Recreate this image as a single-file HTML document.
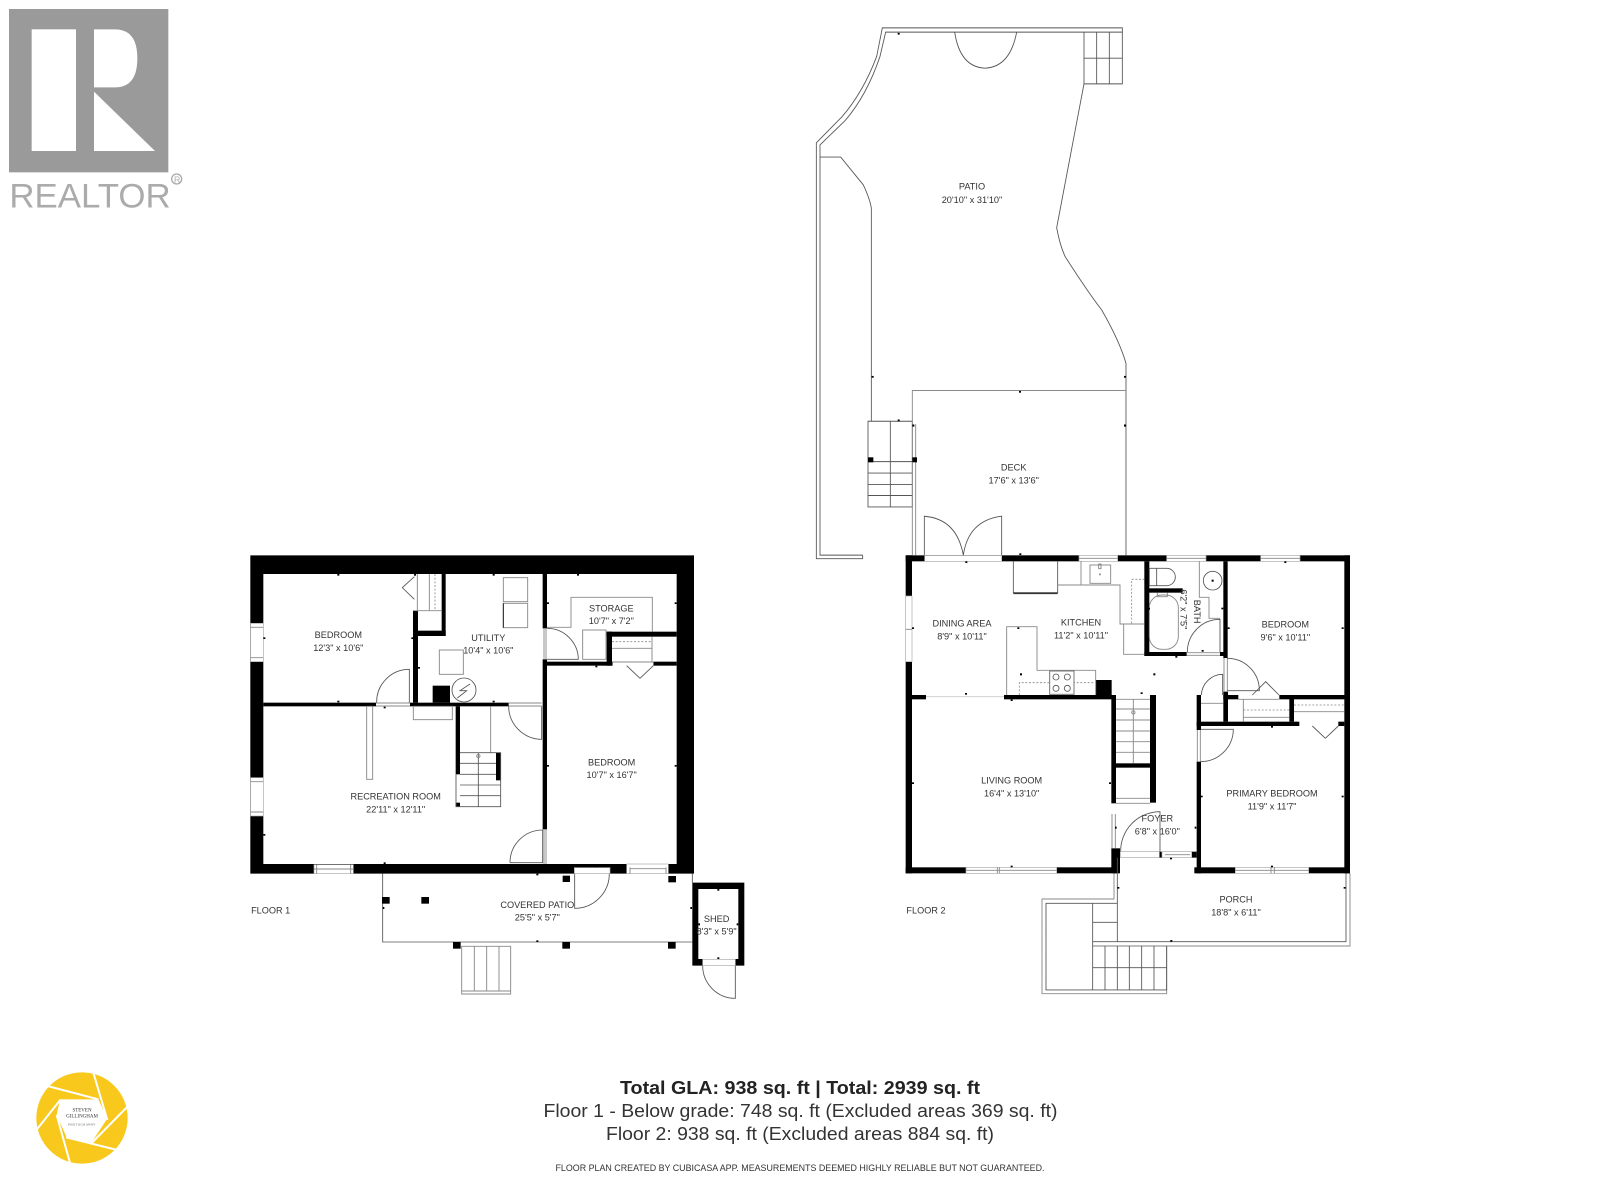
<!DOCTYPE html>
<html><head><meta charset="utf-8"><style>
html,body{margin:0;padding:0;background:#fff}
svg{display:block;filter:blur(.3px)}
text{font-family:"Liberation Sans",sans-serif;fill:#333}
.lb text{font-size:27.5px;text-anchor:middle}
.lp text{font-size:9.2px;text-anchor:middle}
.ln{fill:none;stroke:#555;stroke-width:2.6}
.lg{fill:none;stroke:#8a8a8a;stroke-width:2.8}
.dt{fill:none;stroke:#888;stroke-width:2.4;stroke-dasharray:6 5}
.w{fill:#fff;stroke:#aaa;stroke-width:2}
.k{fill:#000}
</style></head><body>
<svg width="1600" height="1200" viewBox="0 0 1600 1200" xmlns="http://www.w3.org/2000/svg">
<rect width="1600" height="1200" fill="#fff"/>

<!-- REALTOR logo -->
<g transform="scale(.33333)">
<rect x="27" y="27" width="478" height="490" fill="#9a9a9a"/>
<rect x="95" y="88" width="133" height="365" fill="#fff"/>
<path d="M282 88H345Q412 88 412 175Q412 262 345 262H282Z" fill="#fff"/>
<path d="M282 275L465 453H282Z" fill="#fff"/>
<text x="28" y="623" font-size="104" textLength="484" lengthAdjust="spacingAndGlyphs" style="fill:#ababab">REALTOR</text>
<circle cx="530" cy="537" r="15" fill="none" stroke="#aaa" stroke-width="4"/>
<text x="522" y="547" font-size="26" style="fill:#aaa">R</text>
</g>

<!-- Photographer logo -->
<g transform="translate(20,1060) scale(.33333)">
<circle cx="186" cy="174" r="137" fill="#f8c81c"/>
<polygon points="120,118 235,118 262,176 214,248 140,232 110,165" fill="#fff"/>
<g stroke="#fff" stroke-width="6" fill="none">
<path d="M82 78L235 118"/><path d="M220 38L262 180"/><path d="M330 132L212 252"/><path d="M292 270L138 232"/><path d="M46 214L122 118"/><path d="M110 165L152 316"/>
</g>
<text x="186" y="155" font-size="15" text-anchor="middle" style="font-family:'Liberation Serif',serif;fill:#333">STEVEN</text>
<text x="186" y="173" font-size="15" text-anchor="middle" style="font-family:'Liberation Serif',serif;fill:#333">GILLINGHAM</text>
<text x="186" y="196" font-size="9" text-anchor="middle" letter-spacing="1.5" style="font-family:'Liberation Serif',serif;fill:#555">PHOTOGRAPHY</text>
</g>

<!-- PATIO / DECK -->
<g transform="translate(800,10) scale(.33333,.357)">
<path class="ln" d="M188 1527V1537H49V372L125 300Q190 230 230 130L247 50H967V62"/>
<path class="ln" d="M188 1527H60V378L135 310Q200 240 240 130L257 62H967V207H852V62"/>
<path class="ln" d="M852 207L770 610Q780 660 795 690Q860 785 905 840Q960 930 978 990V1527"/>
<path class="ln" d="M60 412H122L190 490Q210 530 214 555V1152"/>
<path class="ln" d="M204 1152H337V1392H204ZM204 1265H337M204 1297H337M204 1329H337M204 1360H337M271 1152V1392"/>
<path class="lg" d="M337 1527V1066H978M347 1160V1527"/>
<path class="ln" d="M373 1527V1418Q470 1425 490 1527Q505 1430 605 1418V1527"/>
<path class="ln" d="M464 62Q480 160 555 163Q630 160 650 62"/>
<path class="ln" d="M890 62V207M928 62V207M852 135H967"/>
<rect class="k" x="204" y="1253" width="16" height="14"/><rect class="k" x="337" y="1253" width="14" height="14"/>
<g class="k"><rect x="293" y="64" width="6" height="5"/><rect x="215" y="1025" width="6" height="5"/><rect x="972" y="1025" width="6" height="5"/><rect x="657" y="1067" width="6" height="5"/><rect x="293" y="1147" width="6" height="5"/><rect x="337" y="1161" width="6" height="6"/><rect x="972" y="1161" width="6" height="6"/></g>
</g>
<g class="lp" transform="translate(800,10)">
<text x="172" y="179.6">PATIO</text><text x="172" y="192.8">20'10" x 31'10"</text>
<text x="213.7" y="460.5">DECK</text><text x="213.7" y="473.7">17'6" x 13'6"</text>
</g>

<!-- FLOOR 1 -->
<g transform="translate(240,540) scale(.33333)">
<path class="k" d="M31 46H1362V1001H31ZM70 102V972H1310V102Z" fill-rule="evenodd"/>
<rect class="w" x="32" y="250" width="38" height="115"/><rect class="w" x="32" y="713" width="38" height="115"/>
<path class="lg" d="M32 262H70M32 353H70M32 725H70M32 816H70"/>
<rect class="w" x="222" y="974" width="118" height="27"/><path class="lg" d="M230 974V1001M332 974V1001M222 987H340"/>
<rect class="w" x="1003" y="983" width="107" height="18"/>
<rect x="1160" y="972" width="125" height="29" class="w"/><path class="lg" d="M1170 982V1001M1278 982V1001M1170 986H1278"/>
<g class="k">
<rect x="70" y="488" width="338" height="11"/><rect x="510" y="488" width="296" height="11"/>
<rect x="908" y="102" width="13" height="163"/><rect x="908" y="358" width="13" height="510"/>
<rect x="519" y="212" width="15" height="276"/><rect x="534" y="272" width="83" height="16"/><rect x="605" y="102" width="12" height="186"/>
<rect x="921" y="365" width="197" height="12"/><rect x="1240" y="365" width="70" height="12"/>
<rect x="1100" y="275" width="16" height="102"/><rect x="1100" y="275" width="210" height="15"/>
<rect x="578" y="437" width="52" height="51"/><rect x="647" y="499" width="13" height="204"/><rect x="768" y="638" width="14" height="83"/><rect x="647" y="788" width="13" height="12"/>
</g>
<path class="lg" d="M408 489H510M408 498H510M806 489H905M806 498H905M912 265V358M918 265V358M912 868V972M918 868V972"/>
<rect x="1118" y="365" width="122" height="12" fill="#fff"/><path class="lg" d="M1118 366H1240"/>
<path class="ln" d="M410 488A98 98 0 0 1 508 388V488"/>
<path class="ln" d="M806 499A100 100 0 0 0 905 598V499"/>
<path class="ln" d="M810 968H908V870A98 98 0 0 0 810 968"/>
<path class="ln" d="M921 265A94 94 0 0 1 1015 358H921"/>
<path class="ln" d="M1004 1001V1105A104 104 0 0 0 1108 1001"/>
<path class="ln" d="M1388 1277A98 98 0 0 0 1486 1375V1277"/>
<path class="lg" d="M921 262H993V172H1237V275"/>
<rect class="lg" x="1028" y="270" width="70" height="88"/>
<path class="lg" d="M1116 325H1236M1236 290V365"/><path class="dt" d="M1116 305H1236"/>
<path class="ln" d="M1160 377L1200 415L1240 377"/>
<path class="ln" d="M523 110L487 143L523 178"/>
<path class="lg" d="M532 102V212M568 102V212M520 212H605"/><path class="dt" d="M585 102V212"/>
<rect class="lg" x="790" y="113" width="73" height="72"/><rect class="lg" x="790" y="190" width="73" height="73"/>
<path d="M790 190V263" stroke="#222" stroke-width="3"/>
<rect class="lg" x="598" y="330" width="72" height="73"/>
<circle class="ln" cx="672" cy="450" r="36"/><path class="ln" d="M690 432L660 452H680L652 474"/>
<rect class="lg" x="520" y="499" width="117" height="40"/>
<rect class="lg" x="380" y="499" width="18" height="219"/>
<path class="lg" d="M752 499V638"/>
<path class="ln" d="M660 638H782V800H648V703M660 670H768M660 703H768M660 735H782M660 767H782M715 638V800"/>
<circle class="lg" cx="715" cy="648" r="5"/>
<path class="ln" d="M428 1001V1206H1357M1357 1001V1028"/>
<g class="k">
<rect x="968" y="1007" width="22" height="19"/><rect x="1285" y="1008" width="23" height="19"/><rect x="426" y="1071" width="23" height="20"/><rect x="544" y="1071" width="23" height="20"/><rect x="639" y="1206" width="23" height="20"/><rect x="967" y="1206" width="23" height="20"/><rect x="1284" y="1206" width="23" height="20"/>
</g>
<path class="lg" d="M665 1219H812V1362H665ZM703 1219V1353M740 1219V1353M777 1219V1353M665 1353H812"/>
<path class="k" d="M1357 1028H1513V1277H1357ZM1375 1047V1257H1495V1047Z" fill-rule="evenodd"/>
<rect class="w" x="1388" y="1258" width="98" height="19"/>
<g class="k">
<rect x="292" y="102" width="6" height="5"/><rect x="522" y="102" width="6" height="5"/><rect x="758" y="102" width="6" height="5"/><rect x="1011" y="102" width="6" height="5"/><rect x="70" y="292" width="6" height="5"/><rect x="514" y="292" width="6" height="5"/><rect x="534" y="381" width="6" height="5"/><rect x="292" y="482" width="6" height="5"/><rect x="758" y="482" width="6" height="5"/><rect x="431" y="500" width="6" height="5"/><rect x="921" y="187" width="6" height="5"/><rect x="1304" y="187" width="6" height="5"/><rect x="1066" y="377" width="6" height="5"/><rect x="921" y="675" width="6" height="5"/><rect x="1304" y="675" width="6" height="5"/><rect x="70" y="882" width="6" height="5"/><rect x="431" y="967" width="6" height="5"/><rect x="1066" y="977" width="6" height="5"/><rect x="889" y="1001" width="6" height="5"/><rect x="428" y="1101" width="5" height="6"/><rect x="1351" y="1101" width="5" height="6"/><rect x="889" y="1201" width="6" height="5"/><rect x="1432" y="1047" width="6" height="5"/><rect x="1432" y="1252" width="6" height="5"/><rect x="1375" y="1150" width="5" height="6"/><rect x="1490" y="1150" width="5" height="6"/>
</g>
<g class="lb">
<text x="295" y="294">BEDROOM</text><text x="295" y="333">12'3" x 10'6"</text>
<text x="745" y="303">UTILITY</text><text x="745" y="341">10'4" x 10'6"</text>
<text x="1114" y="215">STORAGE</text><text x="1114" y="252">10'7" x 7'2"</text>
<text x="1115" y="677">BEDROOM</text><text x="1115" y="714">10'7" x 16'7"</text>
<text x="467" y="778">RECREATION ROOM</text><text x="467" y="817">22'11" x 12'11"</text>
<text x="892" y="1104">COVERED PATIO</text><text x="892" y="1141">25'5" x 5'7"</text>
<text x="1430" y="1146">SHED</text><text x="1430" y="1183">8'3" x 5'9"</text>
<text x="92" y="1121">FLOOR 1</text>
</g>
</g>

<!-- FLOOR 2 -->
<g transform="translate(890,540) scale(.33333)">
<g class="k">
<rect x="47" y="46" width="1333" height="18"/><rect x="47" y="46" width="19" height="954"/><rect x="1363" y="46" width="17" height="954"/>
<rect x="47" y="982" width="635" height="18"/><rect x="913" y="982" width="467" height="18"/>
<rect x="66" y="465" width="42" height="13"/><rect x="342" y="465" width="336" height="13"/><rect x="617" y="420" width="48" height="45"/>
<rect x="664" y="465" width="14" height="325"/><rect x="664" y="925" width="26" height="75"/><rect x="780" y="465" width="18" height="323"/><rect x="678" y="670" width="120" height="13"/>
<rect x="920" y="465" width="13" height="105"/><rect x="920" y="665" width="13" height="335"/>
<rect x="920" y="545" width="308" height="13"/><rect x="1345" y="545" width="18" height="13"/>
<rect x="1000" y="455" width="14" height="90"/><rect x="1000" y="465" width="45" height="13"/><rect x="1168" y="465" width="212" height="13"/><rect x="1198" y="465" width="14" height="80"/>
<rect x="1000" y="64" width="13" height="290"/>
<rect x="763" y="64" width="15" height="284"/><rect x="763" y="336" width="127" height="12"/><rect x="990" y="336" width="22" height="12"/><rect x="775" y="145" width="103" height="13"/>
<rect x="808" y="935" width="8" height="18"/><rect x="905" y="935" width="15" height="18"/>
</g>
<rect class="w" x="104" y="47" width="231" height="17"/>
<rect class="w" x="567" y="46" width="116" height="18"/><path class="lg" d="M567 55H683"/>
<rect class="w" x="830" y="46" width="118" height="18"/><path class="lg" d="M830 55H948"/>
<rect class="w" x="1112" y="46" width="118" height="18"/><path class="lg" d="M1112 55H1230"/>
<rect class="w" x="47" y="168" width="19" height="197"/><path class="lg" d="M47 268H66"/>
<rect x="108" y="466" width="234" height="12" fill="#fff"/><path class="lg" d="M108 470H342" style="stroke:#ccc"/>
<rect class="w" x="228" y="982" width="272" height="18"/><path class="lg" d="M228 991H500M322 982V1000M328 982V1000"/>
<rect class="w" x="1036" y="982" width="220" height="18"/><path class="lg" d="M1036 991H1256M1143 982V1000M1153 982V1000"/>
<rect class="w" x="692" y="935" width="116" height="18"/>
<rect class="w" x="816" y="935" width="89" height="18"/><path class="lg" d="M825 944H900"/>
<path class="lg" d="M666 822V925M676 822V925M678 775H780M678 790H780M922 570V665M931 570V665M890 338H990M890 346H990M1002 354V455M1012 354V455"/>
<path class="ln" d="M370 64V158H503V64"/><path d="M370 160H503" stroke="#333" stroke-width="5"/>
<path class="lg" d="M503 135H690V252H763M573 64V135M701 252V343H763"/>
<rect class="lg" x="600" y="75" width="62" height="55"/><rect class="lg" x="626" y="72" width="7" height="14"/><circle cx="630" cy="103" r="3" fill="#888"/>
<path class="dt" d="M725 250V118H763"/>
<path class="lg" d="M350 465V260H441V391H617V465"/>
<path class="dt" d="M388 465V428H615"/>
<rect x="479" y="393" width="73" height="70" fill="#fff" stroke="#777" stroke-width="3"/>
<g class="ln"><circle cx="498" cy="411" r="9"/><circle cx="532" cy="411" r="9"/><circle cx="498" cy="445" r="9"/><circle cx="532" cy="445" r="9"/></g>
<path class="ln" d="M778 85H830A26 26 0 0 1 830 137H778ZM800 85V137"/>
<rect class="lg" x="778" y="165" width="87" height="163" rx="38"/><path class="lg" d="M802 158V170H832V158"/>
<circle class="ln" cx="968" cy="122" r="28"/><rect class="k" x="965" y="119" width="6" height="6"/>
<path class="lg" d="M928 64V172H957V235H990"/>
<path class="ln" d="M892 336A98 98 0 0 1 990 238V336"/>
<path class="ln" d="M1012 355A96 96 0 0 1 1108 452H1012"/>
<path class="ln" d="M934 465A65 65 0 0 1 998 403V465"/>
<path class="ln" d="M1087 465L1127 425L1167 465"/>
<path class="lg" d="M1060 478V545M933 490H1000M1045 478H1168M1060 532H1198"/><path class="dt" d="M1060 510H1198"/>
<path class="lg" d="M1212 515H1363"/><path class="dt" d="M1212 495H1363"/>
<path class="ln" d="M1267 558L1306 595L1345 558"/>
<path class="ln" d="M932 568H1030A98 98 0 0 1 932 665"/>
<path class="ln" d="M692 935A118 118 0 0 1 810 815V935"/>
<path class="lg" d="M678 507H780M678 540H780M678 573H780M678 605H780M678 637H780M730 478V670"/>
<path class="lg" d="M678 478H780"/><circle class="lg" cx="730" cy="517" r="5"/>
<path class="lg" d="M672 1000V1077H456V1361H830V1218H1380V1000"/>
<path class="ln" d="M682 953V1205H1368V1000M682 1090H468V1350H830V1218M608 1090V1350M608 1147H682M608 1205H682M645 1218V1350M682 1218V1350M718 1218V1350M755 1218V1350M792 1218V1350M608 1218H830M608 1283H830"/>
<g class="k">
<rect x="226" y="64" width="6" height="5"/><rect x="388" y="40" width="6" height="5"/><rect x="66" y="262" width="6" height="5"/><rect x="225" y="459" width="6" height="5"/><rect x="362" y="478" width="6" height="5"/><rect x="382" y="262" width="6" height="5"/><rect x="390" y="400" width="6" height="6"/><rect x="790" y="400" width="6" height="6"/><rect x="752" y="457" width="6" height="5"/><rect x="66" y="727" width="6" height="5"/><rect x="657" y="727" width="6" height="5"/><rect x="362" y="977" width="6" height="5"/><rect x="675" y="860" width="5" height="6"/><rect x="914" y="860" width="5" height="6"/><rect x="840" y="953" width="6" height="5"/><rect x="856" y="348" width="6" height="5"/><rect x="935" y="330" width="6" height="5"/><rect x="775" y="203" width="5" height="6"/><rect x="994" y="203" width="6" height="5"/><rect x="1013" y="262" width="6" height="5"/><rect x="1355" y="262" width="6" height="5"/><rect x="1183" y="64" width="6" height="5"/><rect x="932" y="767" width="6" height="5"/><rect x="1355" y="767" width="6" height="5"/><rect x="1143" y="558" width="6" height="5"/><rect x="1143" y="977" width="6" height="5"/><rect x="682" y="1041" width="6" height="5"/><rect x="1361" y="1041" width="6" height="5"/><rect x="841" y="1200" width="6" height="5"/>
</g>
<g class="lb">
<text x="216" y="260">DINING AREA</text><text x="216" y="299">8'9" x 10'11"</text>
<text x="573" y="256">KITCHEN</text><text x="573" y="295">11'2" x 10'11"</text>
<text x="1186" y="263">BEDROOM</text><text x="1186" y="302">9'6" x 10'11"</text>
<text x="365" y="730">LIVING ROOM</text><text x="365" y="769">16'4" x 13'10"</text>
<text x="802" y="845">FOYER</text><text x="802" y="884">6'8" x 16'0"</text>
<text x="1146" y="769">PRIMARY BEDROOM</text><text x="1146" y="808">11'9" x 11'7"</text>
<text x="1038" y="1088">PORCH</text><text x="1038" y="1127">18'8" x 6'11"</text>
<text x="108" y="1121">FLOOR 2</text>
<text transform="translate(912,215) rotate(90)">BATH</text>
<text transform="translate(872,208) rotate(90)">6'2" x 7'5"</text>
</g>
</g>

<!-- Footer text -->
<text x="620" y="1094" font-size="18.6" font-weight="bold" textLength="360" lengthAdjust="spacingAndGlyphs" style="fill:#222">Total GLA: 938 sq. ft | Total: 2939 sq. ft</text>
<text x="543.5" y="1117" font-size="18.6" textLength="514" lengthAdjust="spacingAndGlyphs">Floor 1 - Below grade: 748 sq. ft (Excluded areas 369 sq. ft)</text>
<text x="606" y="1140" font-size="18.6" textLength="388" lengthAdjust="spacingAndGlyphs">Floor 2: 938 sq. ft (Excluded areas 884 sq. ft)</text>
<text x="555.5" y="1171" font-size="9.2" textLength="489" lengthAdjust="spacingAndGlyphs">FLOOR PLAN CREATED BY CUBICASA APP. MEASUREMENTS DEEMED HIGHLY RELIABLE BUT NOT GUARANTEED.</text>
</svg>
</body></html>
